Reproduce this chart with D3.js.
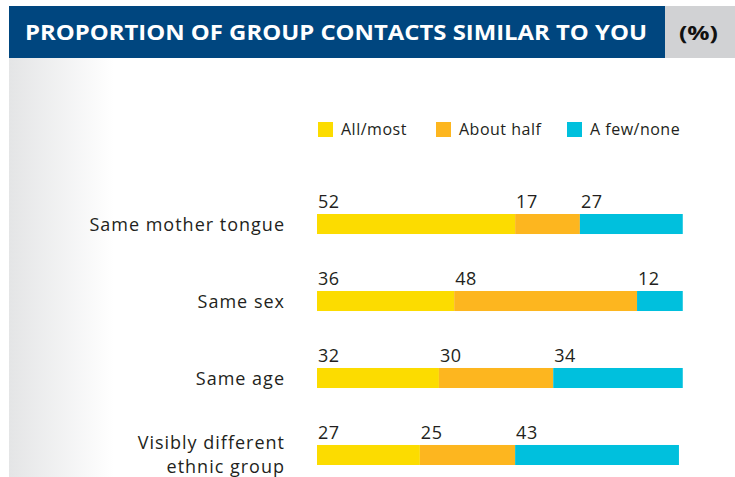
<!DOCTYPE html>
<html>
<head>
<meta charset="utf-8">
<script src="https://cdn.jsdelivr.net/npm/d3@7.9.0/dist/d3.min.js"></script>
<style>
  body { margin: 0; background: #fff; }
  svg { display: block; font-family: "Open Sans", sans-serif; }
</style>
</head>
<body>
<div id="chart"></div>
<script>
// data
const categories = ['Same mother tongue', 'Same sex', 'Same age', 'Visibly different\nethnic group'];
const seriesNames = ['All/most', 'About half', 'A few/none'];
const allMost = [52, 36, 32, 27];
const aboutHalf = [17, 48, 30, 25];
const fewNone = [27, 12, 34, 43];
const colors = ['#fcdc00', '#fdb61f', '#00c0dd'];

const title = 'PROPORTION OF GROUP CONTACTS SIMILAR TO YOU';
const unit = '(%)';

const width = 735;
const height = 477;

const svg = d3.select('#chart')
  .append('svg')
  .attr('width', width)
  .attr('height', height);

// left fade background
const grad = svg.append('defs').append('linearGradient')
  .attr('id', 'fade')
  .attr('x1', 0).attr('x2', 1).attr('y1', 0).attr('y2', 0);
grad.append('stop').attr('offset', '0%').attr('stop-color', '#e4e5e6');
grad.append('stop').attr('offset', '100%').attr('stop-color', '#ffffff');

svg.append('rect')
  .attr('x', 9).attr('y', 58)
  .attr('width', 105).attr('height', height - 58)
  .attr('fill', 'url(#fade)');

// header
svg.append('rect')
  .attr('x', 9).attr('y', 6)
  .attr('width', 656).attr('height', 52)
  .attr('fill', '#00467f');
svg.append('rect')
  .attr('x', 665).attr('y', 6)
  .attr('width', 70).attr('height', 52)
  .attr('fill', '#d1d2d4');

svg.append('text')
  .attr('x', 25).attr('y', 39.5)
  .attr('fill', '#fff')
  .attr('font-size', 21)
  .attr('font-weight', 700)
  .attr('textLength', 622)
  .attr('lengthAdjust', 'spacingAndGlyphs')
  .text(title);

svg.append('text')
  .attr('x', 679).attr('y', 39.5)
  .attr('fill', '#111')
  .attr('font-size', 20)
  .attr('font-weight', 700)
  .attr('textLength', 39)
  .attr('lengthAdjust', 'spacingAndGlyphs')
  .text(unit);

// stacked data
const rows = categories.map((c, i) => ({
  category: c,
  'All/most': allMost[i],
  'About half': aboutHalf[i],
  'A few/none': fewNone[i],
}));
const stacked = d3.stack().keys(seriesNames)(rows);

const x = d3.scaleLinear().domain([0, 100]).range([317, 698]);
const y = d3.scaleBand()
  .domain(categories)
  .range([214, 465])
  .paddingInner(0.74)
  .paddingOuter(0);

const color = d3.scaleOrdinal().domain(seriesNames).range(colors);

// bars
const layers = svg.append('g')
  .selectAll('g')
  .data(stacked)
  .join('g')
  .attr('fill', (d) => color(d.key));

layers.selectAll('rect')
  .data((d) => d)
  .join('rect')
  .attr('x', (d) => x(d[0]))
  .attr('y', (d) => y(d.data.category))
  .attr('width', (d) => x(d[1]) - x(d[0]))
  .attr('height', y.bandwidth());

// value labels
layers.selectAll('text')
  .data((d) => d.map((v) => ({ v, key: d.key })))
  .join('text')
  .attr('x', (d) => x(d.v[0]) + 1)
  .attr('y', (d) => y(d.v.data.category) - 6)
  .attr('fill', '#231f20')
  .attr('font-size', 18)
  .attr('letter-spacing', 0.5)
  .text((d) => d.v.data[d.key]);

// category labels
const cat = svg.append('g')
  .selectAll('text')
  .data(categories)
  .join('text')
  .attr('text-anchor', 'end')
  .attr('fill', '#231f20')
  .attr('font-size', 18)
  .attr('letter-spacing', 1)
  .attr('x', 285)
  .attr('y', (d) => y(d) + y.bandwidth() / 2);

cat.each(function (d) {
  const lines = d.split('\n');
  const t = d3.select(this);
  lines.forEach((line, i) => {
    t.append('tspan')
      .attr('x', 285)
      .attr('dy', i === 0 ? (lines.length > 1 ? '-0.34em' : '0.38em') : '1.34em')
      .text(line);
  });
});

// legend
const legendX = [318, 436, 567];
const legend = svg.append('g')
  .selectAll('g')
  .data(seriesNames)
  .join('g')
  .attr('transform', (d, i) => `translate(${legendX[i]}, 122)`);

legend.append('rect')
  .attr('width', 15).attr('height', 15)
  .attr('fill', (d) => color(d));

legend.append('text')
  .attr('x', 23).attr('y', 12.5)
  .attr('fill', '#231f20')
  .attr('font-size', 16)
  .attr('letter-spacing', 0.5)
  .text((d) => d);
</script>
</body>
</html>
